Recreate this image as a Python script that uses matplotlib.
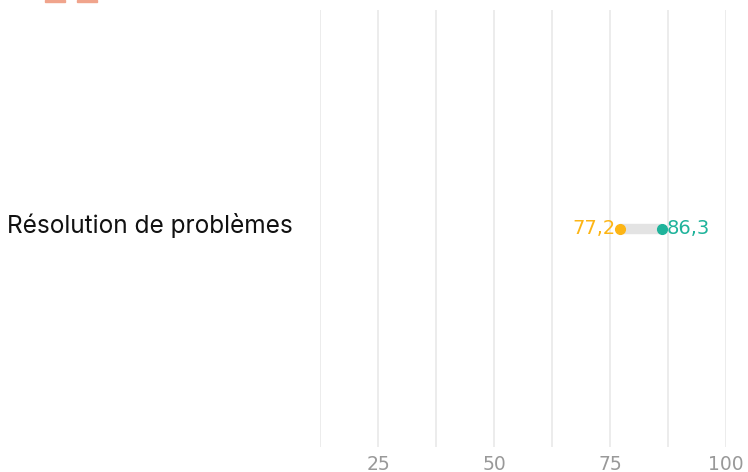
import numpy as np
import matplotlib.pyplot as plt
import matplotlib.transforms as mtransforms
from matplotlib.patches import Rectangle

plt.rcParams['font.family'] = ['DejaVu Sans']

# data
categories = ['Résolution de problèmes']
start_vals = [77.2]
end_vals = [86.3]
major_ticks = [25, 50, 75, 100]
minor_ticks = [12.5, 37.5, 62.5, 87.5]

c_start = '#FDB515'
c_end = '#1FB39B'

fig = plt.figure(figsize=(7.48, 4.72), dpi=100)
ax = fig.add_axes([320 / 748, 1 - 447 / 472, 406 / 748, 437 / 472])

y = np.arange(len(categories))
for yi, a, b in zip(y, start_vals, end_vals):
    ax.plot([a, b], [yi, yi], color='#e3e3e3', lw=7.5, solid_capstyle='butt', zorder=2)
    ax.plot(a, yi, 'o', color=c_start, ms=7, zorder=3)
    ax.plot(b, yi, 'o', color=c_end, ms=7, zorder=3)
    ax.text(a - 0.9, yi, '{:.1f}'.format(a).replace('.', ','), color=c_start,
            fontsize=14, ha='right', va='center')
    ax.text(b + 0.9, yi, '{:.1f}'.format(b).replace('.', ','), color=c_end,
            fontsize=14, ha='left', va='center')

ax.set_xlim(12.5, 100)
ax.set_ylim(-1, 1)
ax.set_xticks(major_ticks)
ax.set_xticks(minor_ticks, minor=True)
ax.set_xticklabels([str(t) for t in major_ticks])
ax.set_yticks(y)
ax.set_yticklabels(categories, fontfamily='Inter', fontsize=17.6, color='#111111')
ax.tick_params(axis='y', length=0, pad=19.5)
ax.tick_params(axis='x', which='both', length=0, labelsize=13.5, labelcolor='#999999', pad=6)
ax.grid(axis='x', which='both', color='#ececec', lw=1.4)
ax.set_axisbelow(True)
for s in ax.spines.values():
    s.set_visible(False)

# nudge category label up a little
shift = mtransforms.ScaledTranslation(0, 5 / 100, fig.dpi_scale_trans)
for lab in ax.get_yticklabels():
    lab.set_transform(lab.get_transform() + shift)

# cropped legend markers at the very top
for x0 in (45, 77):
    fig.patches.append(Rectangle((x0 / 748, 1 - 2 / 472), 20 / 748, 2 / 472,
                                 transform=fig.transFigure, color='#f0a48c'))

fig.savefig('out.png', dpi=100)
